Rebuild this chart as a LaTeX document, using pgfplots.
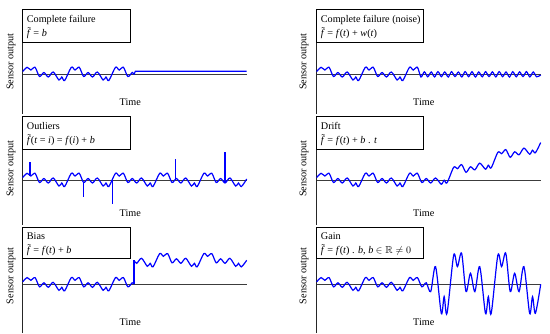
\documentclass[border=0pt]{standalone}
\usepackage{fontspec}
\setmainfont{Liberation Serif}
\usepackage{amssymb}
\usepackage{pgfplots}
\pgfplotsset{compat=1.18}
\definecolor{wavec}{RGB}{0,0,255}
\definecolor{zeroc}{RGB}{60,60,60}
\pgfplotsset{
  panel/.style={scale only axis, width=224pt, xmin=0, xmax=5.07,
    axis x line=none, axis y line=left,
    axis line style={-, black!85, line width=0.9pt},
    xtick=\empty, ytick=\empty, anchor=north west, clip=false},
  sig/.style={draw=wavec, color=wavec, line width=1.2pt, smooth, mark=none},
  sharpsig/.style={draw=wavec, color=wavec, line width=1.2pt, sharp plot, mark=none},
  spike/.style={draw=wavec, color=wavec, line width=1.4pt, sharp plot, mark=none, line cap=butt},
  zero/.style={draw=zeroc, line width=0.9pt, mark=none, sharp plot}
}
\newcommand{\ft}{\makebox[0pt][l]{\hspace{0.07em}\raisebox{0.42ex}{\char"02DC}}\textit{f}}
\begin{document}
\fontsize{10.2}{12}\selectfont
\begin{tikzpicture}
\path[use as bounding box] (0,0) rectangle (550pt,-333pt);

% ---------- Row 1 left: complete failure
\begin{axis}[panel, at={(22.7pt,-9pt)}, height=105pt, ymin=-40, ymax=65]
\addplot[zero] coordinates {(0,0) (5.07,0)};
\addplot[sig] coordinates {(0,2.5) (0.10,6.7) (0.185,4) (0.28,6.7) (0.38,-2.5) (0.48,1.5) (0.58,-3) (0.69,2) (0.82,-6) (0.885,-3) (0.95,-6.5)
(1.10,6.7) (1.185,4) (1.28,6.7) (1.38,-2.5) (1.48,1.5) (1.58,-3) (1.69,2) (1.82,-6) (1.885,-3) (1.95,-6.5)
(2.10,6.7) (2.185,4) (2.28,6.7) (2.38,-2.5) (2.48,1.5) (2.52,-0.5)};
\addplot[sharpsig] coordinates {(2.52,-0.5) (2.55,2.8) (5.07,2.8)};
\end{axis}

% ---------- Row 1 right: complete failure (noise)
\begin{axis}[panel, at={(316.7pt,-9pt)}, height=105pt, ymin=-40, ymax=65]
\addplot[zero] coordinates {(0,0) (5.07,0)};
\addplot[sig] coordinates {(0,2.5) (0.10,6.7) (0.185,4) (0.28,6.7) (0.38,-2.5) (0.48,1.5) (0.58,-3) (0.69,2) (0.82,-6) (0.885,-3) (0.95,-6.5)
(1.10,6.7) (1.185,4) (1.28,6.7) (1.38,-2.5) (1.48,1.5) (1.58,-3) (1.69,2) (1.82,-6) (1.885,-3) (1.95,-6.5)
(2.10,6.7) (2.185,4) (2.28,6.7) (2.36,-3)
(2.437,2.2) (2.514,-2.8) (2.591,2.0) (2.668,-2.9) (2.745,2.4) (2.822,-2.7) (2.899,2.1) (2.976,-3.0)
(3.053,2.3) (3.130,-2.6) (3.207,2.0) (3.284,-2.9) (3.361,2.4) (3.438,-2.7) (3.515,2.2) (3.592,-3.0)
(3.669,2.0) (3.746,-2.8) (3.823,2.3) (3.900,-2.6) (3.977,2.1) (4.054,-2.9) (4.131,2.4) (4.208,-2.7)
(4.285,2.0) (4.362,-3.0) (4.439,2.3) (4.516,-2.8) (4.593,2.1) (4.670,-2.6) (4.747,2.4) (4.824,-2.9)
(4.901,2.0) (4.978,-2.8) (5.07,-1)};
\end{axis}

% ---------- Row 2 left: outliers
\begin{axis}[panel, at={(22.7pt,-116pt)}, height=109pt, ymin=-45, ymax=64]
\addplot[zero] coordinates {(0,0) (5.07,0)};
\addplot[sig] coordinates {(0,2.5) (0.10,6.7) (0.185,4) (0.28,6.7) (0.38,-2.5) (0.48,1.5) (0.58,-3) (0.69,2) (0.82,-6) (0.885,-3) (0.95,-6.5)
(1.10,6.7) (1.185,4) (1.28,6.7) (1.38,-2.5) (1.48,1.5) (1.58,-3) (1.69,2) (1.82,-6) (1.885,-3) (1.95,-6.5)
(2.10,6.7) (2.185,4) (2.28,6.7) (2.38,-2.5) (2.48,1.5) (2.58,-3) (2.69,2) (2.82,-6) (2.885,-3) (2.95,-6.5)
(3.10,6.7) (3.185,4) (3.28,6.7) (3.38,-2.5) (3.48,1.5) (3.58,-3) (3.69,2) (3.82,-6) (3.885,-3) (3.95,-6.5)
(4.10,6.7) (4.185,4) (4.28,6.7) (4.38,-2.5) (4.48,1.5) (4.58,-3) (4.69,2) (4.82,-6) (4.885,-3) (4.95,-6.5) (5.07,1)};
\addplot[spike] coordinates {(0.166,4.5) (0.166,18)};
\addplot[spike] coordinates {(1.376,-2.3) (1.376,-17.3)};
\addplot[spike] coordinates {(2.033,0) (2.033,-23.7)};
\addplot[spike] coordinates {(3.459,1.2) (3.459,21.5)};
\addplot[spike] coordinates {(4.58,-3) (4.58,28)};
\end{axis}

% ---------- Row 2 right: drift
\begin{axis}[panel, at={(316.7pt,-116pt)}, height=109pt, ymin=-45, ymax=64]
\addplot[zero] coordinates {(0,0) (5.07,0)};
\addplot[sig] coordinates {(0,2.5) (0.10,6.7) (0.185,4) (0.28,6.7) (0.38,-2.5) (0.48,1.5) (0.58,-3) (0.69,2) (0.82,-6) (0.885,-3) (0.95,-6.5)
(1.10,6.7) (1.185,4) (1.28,6.7) (1.38,-2.5) (1.48,1.5) (1.58,-3) (1.69,2) (1.82,-6) (1.885,-3) (1.95,-6.5)
(2.10,6.7) (2.185,4) (2.28,6.7) (2.38,-2.5) (2.48,1.5) (2.58,-3) (2.69,2) (2.82,-4.2) (2.885,-0.2) (2.95,-2.75)
(3.10,12.7) (3.185,11.3) (3.28,15.4) (3.38,7.7) (3.48,13.2) (3.58,10.2) (3.69,16.85) (3.82,10.8) (3.885,14.8) (3.95,12.25)
(4.10,27.7) (4.185,26.3) (4.28,30.4) (4.38,22.7) (4.48,28.2) (4.58,25.2) (4.69,31.85) (4.82,25.8) (4.885,29.8) (4.95,27.25) (5.07,37.5)};
\end{axis}

% ---------- Row 3 left: bias
\begin{axis}[panel, at={(22.7pt,-227pt)}, height=106pt, ymin=-48.7, ymax=57.3]
\addplot[zero] coordinates {(0,0) (5.07,0)};
\addplot[sig] coordinates {(0,2.5) (0.10,6.7) (0.185,4) (0.28,6.7) (0.38,-2.5) (0.48,1.5) (0.58,-3) (0.69,2) (0.82,-6) (0.885,-3) (0.95,-6.5)
(1.10,6.7) (1.185,4) (1.28,6.7) (1.38,-2.5) (1.48,1.5) (1.58,-3) (1.69,2) (1.82,-6) (1.885,-3) (1.95,-6.5)
(2.10,6.7) (2.185,4) (2.28,6.7) (2.38,-2.5) (2.48,1.5) (2.52,0)};
\addplot[sharpsig] coordinates {(2.52,0) (2.52,24)};
\addplot[sig] coordinates {(2.52,24) (2.58,21) (2.69,26) (2.82,18) (2.885,21) (2.95,17.5)
(3.10,30.7) (3.185,28) (3.28,30.7) (3.38,21.5) (3.48,25.5) (3.58,21) (3.69,26) (3.82,18) (3.885,21) (3.95,17.5)
(4.10,30.7) (4.185,28) (4.28,30.7) (4.38,21.5) (4.48,25.5) (4.58,21) (4.69,26) (4.82,18) (4.885,21) (4.95,17.5) (5.07,24)};
\end{axis}

% ---------- Row 3 right: gain
\begin{axis}[panel, at={(316.7pt,-227pt)}, height=106pt, ymin=-48.7, ymax=57.3]
\addplot[zero] coordinates {(0,0) (5.07,0)};
\addplot[sig] coordinates {(0,2.5) (0.10,6.7) (0.185,4) (0.28,6.7) (0.38,-2.5) (0.48,1.5) (0.58,-3) (0.69,2) (0.82,-6) (0.885,-3) (0.95,-6.5)
(1.10,6.7) (1.185,4) (1.28,6.7) (1.38,-2.5) (1.48,1.5) (1.58,-3) (1.69,2) (1.82,-6) (1.885,-3) (1.95,-6.5)
(2.10,6.7) (2.185,4) (2.28,6.7) (2.38,-2.5) (2.48,1.5) (2.58,-7.3) (2.69,17.7) (2.82,-29) (2.885,-12.3) (2.95,-29)
(3.10,29) (3.185,17.7) (3.28,31) (3.38,-7.3) (3.48,11) (3.58,-7.3) (3.69,17.7) (3.82,-29) (3.885,-12.3) (3.95,-29)
(4.10,29) (4.185,17.7) (4.28,31) (4.38,-7.3) (4.48,11) (4.58,-7.3) (4.69,17.7) (4.82,-29) (4.885,-12.3) (4.95,-29) (5.07,0)};
\end{axis}

% ---------- boxes and texts
\tikzset{bx/.style={draw=black, line width=0.8pt, fill=white}, tx/.style={anchor=base west, inner sep=0pt}}
% row 1
\draw[bx] (22.7pt,-9pt) rectangle (130pt,-42pt);
\node[tx] at (26.7pt,-22pt) {Complete failure};
\node[tx] at (26.7pt,-36pt) {\ft{} = \textit{b}};
\draw[bx] (316.7pt,-9pt) rectangle (423.3pt,-42pt);
\node[tx] at (320.7pt,-22pt) {Complete failure (noise)};
\node[tx] at (320.7pt,-36pt) {\ft{} = \textit{f}(\textit{t}) + \textit{w}(\textit{t})};
% row 2
\draw[bx] (22.7pt,-116pt) rectangle (130pt,-149.3pt);
\node[tx] at (26.7pt,-129pt) {Outliers};
\node[tx] at (26.7pt,-143pt) {\ft(\textit{t} = \textit{i}) = \textit{f}(\textit{i}) + \textit{b}};
\draw[bx] (316.7pt,-116pt) rectangle (423.3pt,-149.3pt);
\node[tx] at (320.7pt,-129pt) {Drift};
\node[tx] at (320.7pt,-143pt) {\ft{} = \textit{f}(\textit{t}) + \textit{b} . \textit{t}};
% row 3
\draw[bx] (22.7pt,-227pt) rectangle (130pt,-258pt);
\node[tx] at (26.7pt,-239.5pt) {Bias};
\node[tx] at (26.7pt,-253pt) {\ft{} = \textit{f}(\textit{t}) + \textit{b}};
\draw[bx] (316.7pt,-227pt) rectangle (423.3pt,-258pt);
\node[tx] at (320.7pt,-239.5pt) {Gain};
\node[tx] at (320.7pt,-253pt) {\ft{} = \textit{f}(\textit{t}) . \textit{b}, \textit{b} $\in \mathbb{R} \neq 0$};

% axis labels
\foreach \yy in {61.7,168.5,276} {
  \node[rotate=90] at (11pt,-\yy pt) {Sensor output};
  \node[rotate=90] at (304pt,-\yy pt) {Sensor output};
}
\node at (130.3pt,-102pt) {Time};
\node at (130.3pt,-212.7pt) {Time};
\node at (130.3pt,-322pt) {Time};
\node at (423.8pt,-102pt) {Time};
\node at (423.8pt,-212.7pt) {Time};
\node at (423.8pt,-322pt) {Time};
\end{tikzpicture}
\end{document}
